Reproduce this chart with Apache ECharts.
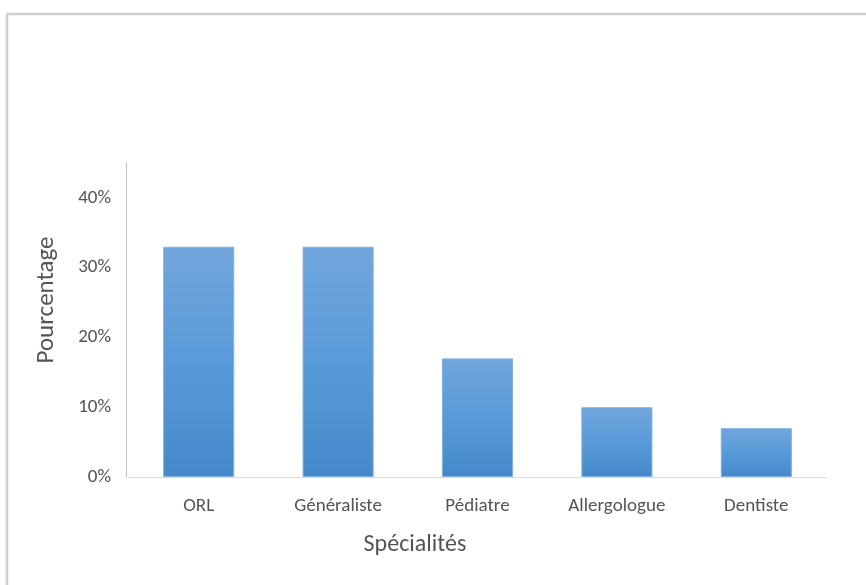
<!DOCTYPE html>
<html><head><meta charset="utf-8">
<script src="https://cdn.jsdelivr.net/npm/echarts@6/dist/echarts.min.js"></script>
<style>html,body{margin:0;padding:0;background:#fff}#c{width:866px;height:585px}</style>
</head><body><div id="c"></div>
<script>
const categories = ['ORL', 'Généraliste', 'Pédiatre', 'Allergologue', 'Dentiste'];
const values = [33, 33, 17, 10, 7];
const yTickLabels = ['0%', '10%', '20%', '30%', '40%'];
const xTitle = 'Spécialités';
const yTitle = 'Pourcentage';

const FONT = "Carlito,'Open Sans',sans-serif";
const TXT = '#545454';
const chart = echarts.init(document.getElementById('c'), null, {renderer: 'canvas'});
chart.setOption({
  animation: false,
  backgroundColor: '#fff',
  grid: {left: 129, right: 40, top: 163, bottom: 108, containLabel: false},
  xAxis: {
    type: 'category', data: categories,
    axisLine: {lineStyle: {color: '#d9d9d9', width: 1}},
    axisTick: {show: false},
    axisLabel: {color: TXT, fontSize: 19, fontFamily: FONT, margin: 20}
  },
  yAxis: {
    type: 'value', min: 0, max: 45, interval: 5, offset: 3,
    axisLine: {show: true, lineStyle: {color: '#bfbfbf', width: 1}},
    axisTick: {show: false},
    splitLine: {show: false},
    axisLabel: {
      color: TXT, fontSize: 19, fontFamily: FONT, margin: 15,
      formatter: v => (v % 10 === 0 ? yTickLabels[v / 10] : '')
    }
  },
  graphic: [
    {type: 'rect', shape: {x: 7, y: 14, width: 900, height: 600}, style: {fill: 'none', stroke: '#d0d0d0', lineWidth: 2.5}, silent: true},
    {type: 'text', x: 415, y: 545, style: {text: xTitle, fill: TXT, font: "24px " + FONT, textAlign: 'center', textVerticalAlign: 'middle'}},
    {type: 'text', x: 47, y: 300, rotation: Math.PI / 2, style: {text: yTitle, fill: TXT, font: "25px " + FONT, textAlign: 'center', textVerticalAlign: 'middle'}}
  ],
  series: [{
    type: 'bar', data: values, barWidth: '51%',
    itemStyle: {
      color: new echarts.graphic.LinearGradient(0, 0, 0, 1, [
        {offset: 0, color: '#71a6dc'},
        {offset: 0.5, color: '#599ad9'},
        {offset: 1, color: '#4589ca'}
      ]),
      borderColor: '#80b2e2', borderWidth: 1
    }
  }]
});
</script></body></html>
